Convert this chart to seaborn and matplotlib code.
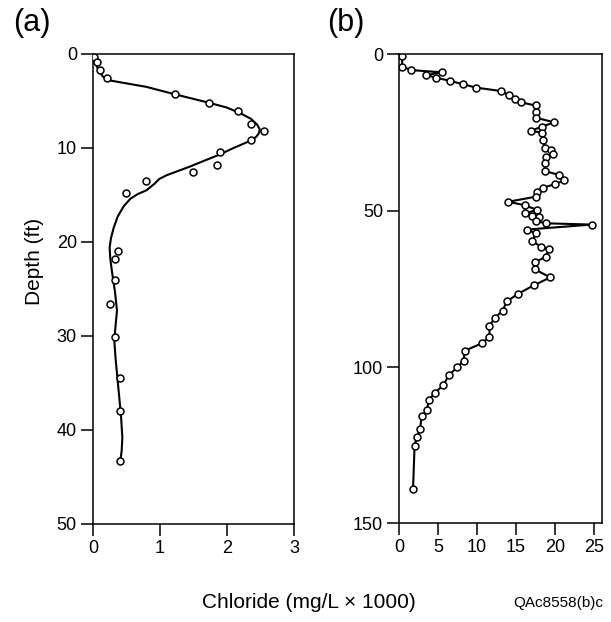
import numpy as np
import pandas as pd
import matplotlib
matplotlib.use('Agg')
import matplotlib.pyplot as plt
import seaborn as sns

sns.set_style('ticks')
plt.rcParams['font.family'] = ['Liberation Sans', 'DejaVu Sans']
plt.rcParams['text.color'] = 'black'

# panel (a): measured points
a_cl = [0.01, 0.06, 0.10, 0.21, 1.23, 1.74, 2.17, 2.36, 2.56, 2.36, 1.90, 1.85,
        1.50, 0.80, 0.49, 0.37, 0.33, 0.33, 0.25, 0.33, 0.41, 0.41, 0.41]
a_depth = [0.35, 0.85, 1.7, 2.6, 4.3, 5.2, 6.1, 7.4, 8.2, 9.1, 10.4, 11.8,
           12.6, 13.5, 14.8, 21.0, 21.8, 24.0, 26.6, 30.1, 34.5, 38.0, 43.3]

# panel (a): fitted curve
a_fit_cl = [0.01, 0.04, 0.09, 0.15, 0.24, 0.40, 0.80, 1.23, 1.74, 2.00, 2.20, 2.36,
            2.45, 2.49, 2.48, 2.44, 2.36, 2.10, 1.89, 1.44, 1.10, 0.99, 0.92,
            0.80, 0.67, 0.56, 0.46, 0.37, 0.31, 0.27, 0.25, 0.26, 0.29, 0.33,
            0.36, 0.34, 0.32, 0.34, 0.38, 0.42, 0.44, 0.43, 0.41]
a_fit_depth = [0.3, 1.0, 1.8, 2.4, 2.8, 3.0, 3.5, 4.3, 5.2, 5.7, 6.3, 6.9,
               7.5, 8.0, 8.4, 8.8, 9.2, 10.0, 10.7, 12.0, 12.9, 13.3, 13.8,
               14.5, 14.9, 15.4, 16.2, 17.3, 18.5, 19.6, 20.6, 21.8, 23.4, 25.3,
               27.3, 28.8, 30.5, 32.5, 35.5, 38.5, 40.8, 42.2, 43.3]

# panel (b)
b_cl = [0.4, 0.4, 1.6, 5.5, 3.5, 4.7, 6.5, 8.2, 9.9, 13.1, 14.1, 14.9, 15.6, 17.5,
        17.5, 17.5, 19.9, 18.3, 16.9, 18.3, 18.5, 18.7, 19.5, 19.7, 18.8, 18.7,
        18.7, 20.5, 21.2, 20.0, 18.4, 17.7, 17.5, 14.0, 16.1, 17.7, 16.2, 17.0,
        17.9, 17.5, 18.9, 24.7, 16.4, 17.5, 17.1, 18.2, 19.2, 18.8, 17.4, 17.4,
        19.4, 17.3, 15.3, 13.8, 13.3, 12.3, 11.6, 11.6, 10.6, 8.4, 8.3, 7.5,
        6.4, 5.7, 4.6, 3.8, 3.6, 2.9, 2.7, 2.3, 2.0, 1.8]
b_depth = [0.5, 3.9, 5.0, 5.7, 6.6, 7.4, 8.4, 9.5, 10.6, 11.7, 13.1, 14.1, 15.3, 16.3,
           18.3, 20.2, 21.7, 23.1, 24.4, 25.0, 27.4, 29.8, 30.6, 31.9, 32.9, 34.8,
           37.3, 38.5, 40.2, 41.5, 42.6, 44.0, 45.5, 47.1, 48.2, 49.7, 50.8, 51.7,
           52.1, 53.3, 54.0, 54.4, 56.0, 57.2, 59.7, 61.5, 62.3, 64.7, 66.5, 68.7,
           71.3, 73.8, 76.5, 79.0, 81.9, 84.2, 86.8, 90.2, 92.4, 94.8, 97.9, 100.0,
           102.5, 105.7, 108.2, 110.5, 113.8, 115.7, 119.9, 122.2, 125.1, 139.1]

pts_a = pd.DataFrame({'cl': a_cl, 'depth': a_depth})
fit_a = pd.DataFrame({'cl': a_fit_cl, 'depth': a_fit_depth})
pts_b = pd.DataFrame({'cl': b_cl, 'depth': b_depth})

fig = plt.figure(figsize=(6.11, 6.22), dpi=100)
ax1 = fig.add_axes([0.152, 0.1576, 0.329, 0.7556])
ax2 = fig.add_axes([0.653, 0.1584, 0.332, 0.7540])

sns.lineplot(data=fit_a, x='cl', y='depth', sort=False, estimator=None,
             color='black', linewidth=1.5, ax=ax1)
sns.scatterplot(data=pts_a, x='cl', y='depth', marker='o', s=25,
                facecolor='white', edgecolor='black', linewidth=1.1, zorder=3, ax=ax1)

sns.lineplot(data=pts_b, x='cl', y='depth', sort=False, estimator=None,
             color='black', linewidth=1.5, marker='o', markersize=5,
             markerfacecolor='white', markeredgecolor='black', markeredgewidth=1.1, ax=ax2)

ax1.set_xlim(0, 3)
ax1.set_ylim(50, 0)
ax1.set_xticks([0, 1, 2, 3])
ax1.set_yticks([0, 10, 20, 30, 40, 50])
ax2.set_xlim(0, 26)
ax2.set_ylim(150, 0)
ax2.set_xticks([0, 5, 10, 15, 20, 25])
ax2.set_yticks([0, 50, 100, 150])

for ax in (ax1, ax2):
    ax.set_xlabel('')
    ax.set_ylabel('')
    for sp in ax.spines.values():
        sp.set_visible(True)
        sp.set_color('black')
        sp.set_linewidth(1.1)
    ax.tick_params(direction='out', length=8.5, width=1.1, labelsize=13, pad=3, colors='black')

fig.text(0.022, 0.963, '(a)', fontsize=22, va='center', ha='left')
fig.text(0.535, 0.963, '(b)', fontsize=22, va='center', ha='left')
fig.text(0.057, 0.579, 'Depth (ft)', fontsize=15, rotation=90, va='center', ha='center')
fig.text(0.506, 0.031, 'Chloride (mg/L \u00d7 1000)', fontsize=15, va='center', ha='center')
fig.text(0.988, 0.031, 'QAc8558(b)c', fontsize=11, va='center', ha='right',
         family=['Liberation Sans Narrow', 'Liberation Sans'])

fig.savefig('out.png', dpi=100)
